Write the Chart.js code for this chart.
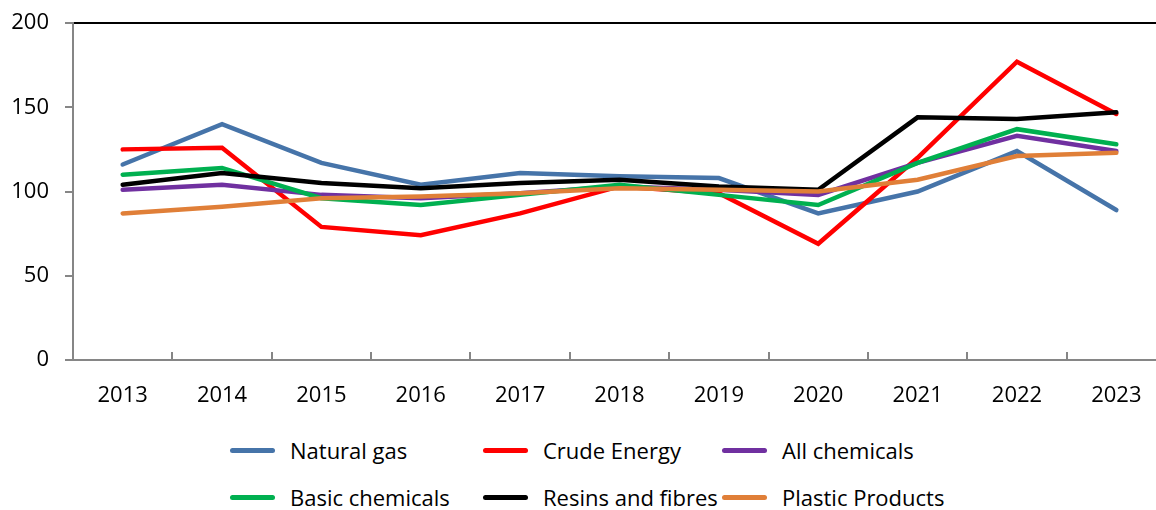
<!DOCTYPE html>
<html>
<head>
<meta charset="utf-8">
<script src="https://cdn.jsdelivr.net/npm/chart.js@4.4.1/dist/chart.umd.min.js"></script>
<style>
  html, body { margin: 0; padding: 0; background: #fff; overflow: hidden; width: 1156px; height: 510px; }
  #wrap { position: absolute; left: 0; top: 0; width: 1180px; height: 420px; }
  .lg { position: absolute; display: flex; align-items: center; font-family: "Open Sans", sans-serif; font-size: 22px; color: #000; white-space: nowrap; }
  .lg .sw { width: 45px; height: 5px; border-radius: 3px; margin-right: 15px; }
</style>
</head>
<body>
<div id="wrap"><canvas id="c"></canvas></div>
<div id="legend"></div>
<script>
const years = ["2013","2014","2015","2016","2017","2018","2019","2020","2021","2022","2023"];
const yTicks = [0, 50, 100, 150, 200];

const naturalGas      = [116, 140, 117, 104, 111, 109, 108, 87, 100, 124, 89];
const crudeEnergy     = [125, 126, 79, 74, 87, 103, 99, 69, 120, 177, 146];
const allChemicals    = [101, 104, 98, 96, 99, 103, 101, 98, 117, 133, 124];
const basicChemicals  = [110, 114, 96, 92, 98, 104, 98, 92, 117, 137, 128];
const resinsFibres    = [104, 111, 105, 102, 105, 107, 103, 101, 144, 143, 147];
const plasticProducts = [87, 91, 96, 97, 99, 102, 101, 100, 107, 121, 123];

const seriesNames  = ["Natural gas", "Crude Energy", "All chemicals", "Basic chemicals", "Resins and fibres", "Plastic Products"];
const seriesData   = [naturalGas, crudeEnergy, allChemicals, basicChemicals, resinsFibres, plasticProducts];
const seriesColors = ["#4674A9", "#FF0000", "#7030A0", "#00B050", "#000000", "#E07F38"];

const datasets = seriesNames.map((name, i) => ({
  label: name,
  data: seriesData[i],
  borderColor: seriesColors[i],
  backgroundColor: seriesColors[i],
  borderWidth: 4.5,
  pointRadius: 0,
  tension: 0,
  fill: false,
  borderCapStyle: 'round',
  borderJoinStyle: 'miter',
  order: seriesNames.length - i
}));

const innerTicks = {
  id: 'innerTicks',
  beforeDatasetsDraw(chart) {
    const x = chart.scales.x, ctx = chart.ctx;
    const bottom = chart.chartArea.bottom;
    ctx.save();
    ctx.strokeStyle = '#868686';
    ctx.lineWidth = 2;
    for (let i = 1; i < years.length; i++) {
      const px = Math.round((x.getPixelForTick(i) + x.getPixelForTick(i - 1)) / 2);
      ctx.beginPath();
      ctx.moveTo(px, bottom);
      ctx.lineTo(px, bottom - 8);
      ctx.stroke();
    }
    ctx.restore();
  }
};

new Chart(document.getElementById('c'), {
  type: 'line',
  data: { labels: years, datasets },
  plugins: [innerTicks],
  options: {
    responsive: true,
    maintainAspectRatio: false,
    animation: false,
    layout: { padding: { top: 23, right: 14, bottom: 0, left: 0 } },
    plugins: { legend: { display: false }, tooltip: { enabled: false } },
    scales: {
      x: {
        offset: true,
        grid: { display: false, drawTicks: false },
        border: { display: true, color: '#868686', width: 2 },
        ticks: { color: '#000', font: { family: 'Open Sans', size: 22 }, padding: 23, maxRotation: 0 },
        afterFit(s) { s.height = 60; s.paddingLeft = 0; s.paddingRight = 0; }
      },
      y: {
        min: 0, max: 200,
        afterBuildTicks(s) { s.ticks = yTicks.map(v => ({ value: v })); },
        grid: {
          color: c => (c.tick && c.tick.value === 200) ? '#000' : 'rgba(0,0,0,0)',
          lineWidth: c => (c.tick && c.tick.value === 200) ? 2 : 0,
          tickColor: '#868686',
          tickLength: 8,
          tickWidth: 2,
          drawTicks: true
        },
        border: { display: true, color: '#868686', width: 2 },
        ticks: { color: '#000', font: { family: 'Open Sans', size: 22 }, padding: 16 },
        afterFit(s) { s.width = 73; s.paddingTop = 0; s.paddingBottom = 0; }
      }
    }
  }
});

const legendPos = [[230, 450], [483, 450], [722, 450], [230, 497], [483, 497], [722, 497]];
const lg = document.getElementById('legend');
seriesNames.forEach((name, i) => {
  const d = document.createElement('div');
  d.className = 'lg';
  d.style.left = legendPos[i][0] + 'px';
  d.style.top = (legendPos[i][1] - 16) + 'px';
  d.style.height = '32px';
  const sw = document.createElement('span');
  sw.className = 'sw';
  sw.style.background = seriesColors[i];
  const t = document.createElement('span');
  t.textContent = name;
  d.appendChild(sw); d.appendChild(t);
  lg.appendChild(d);
});
</script>
</body>
</html>
